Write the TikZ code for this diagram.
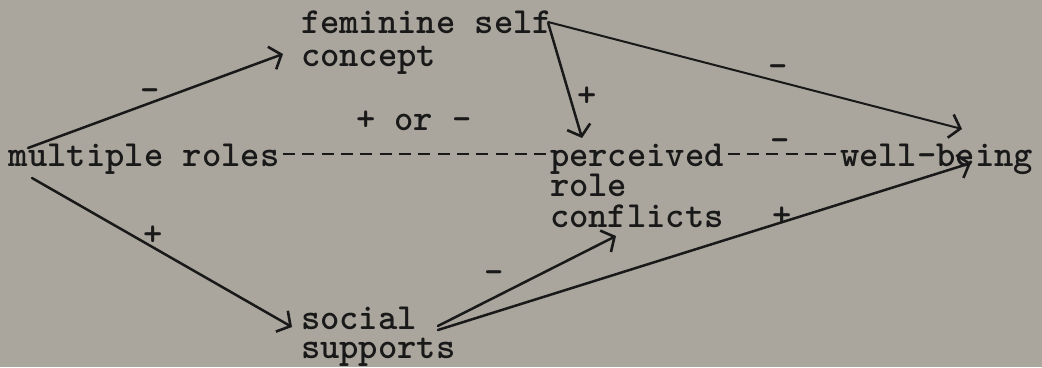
\documentclass[tikz,border=0pt]{standalone}
\usetikzlibrary{arrows.meta,calc}
\definecolor{bg}{RGB}{170,166,157}
\definecolor{ink}{RGB}{25,25,25}
\newcommand\tw{\fontsize{36.8}{40}\selectfont\ttfamily\bfseries}
\tikzset{
  x=1pt,y=-1pt,
  txt/.style={anchor=base west,inner sep=0pt,outer sep=0pt,font=\tw,text=ink},
  sgn/.style={anchor=base,inner sep=0pt,outer sep=0pt,font=\tw,text=ink},
  conn/.style={draw=ink,line width=2.5pt,line cap=round,
    -{Straight Barb[length=10pt,width=24pt,line width=2.6pt]}},
  thinconn/.style={conn,line width=2pt},
  dashconn/.style={draw=ink,line width=2.4pt,dash pattern=on 12pt off 7.32pt,dash phase=15.66pt}
}
\begin{document}
\begin{tikzpicture}
\fill[bg] (0,0) rectangle (1042,367);
\useasboundingbox (0,0) rectangle (1042,367);
% nodes
\node[txt] (fem1) at (301,33) {feminine self};
\node[txt] (fem2) at (301,66) {concept};
\node[txt] (mr)   at (9,166) {multiple roles};
\node[txt] (pe1)  at (550,166) {perceived};
\node[txt] (pe2)  at (550,196) {role};
\node[txt] (pe3)  at (550,227) {conflicts};
\node[txt] (wb)   at (840,166) {well-being};
\node[txt] (ss1)  at (301,329) {social};
\node[txt] (ss2)  at (301,358) {supports};
% dashed (typed) links
\draw[dashconn] ($(mr.base east)+(0,-12)$) -- ($(pe1.base west)+(0,-12)$);
\draw[dashconn] ($(pe1.base east)+(0,-12)$) -- ($(wb.base west)+(0,-12)$);
% arrows
\draw[conn] ($(mr.base west)+(19,-18)$) -- ($(fem2.base west)+(-18,-12)$);
\draw[conn] ($(mr.base west)+(23,12)$) -- ($(ss1.base west)+(-9,-2)$);
\draw[conn] ($(fem1.base east)+(-4,-10)$) -- ($(pe1.base west)+(32,-28)$);
\draw[thinconn] ($(fem1.base east)+(-4,-11)$) -- ($(wb.base west)+(122,-37)$);
\draw[conn] ($(ss1.base east)+(21,-3)$) -- ($(pe3.base west)+(66,9)$);
\draw[conn] ($(ss1.base east)+(21,1)$) -- ($(wb.base west)+(131,-3)$);
% labels
\node[sgn] (l1) at (150,101) {-};
\node[sgn] (l2) at (587,106) {+};
\node[sgn] (l3) at (778,77) {-};
\node[txt] (l4) at (356,130) {+ or -};
\node[sgn] (l5) at (780,151) {-};
\node[sgn] (l6) at (153,245) {+};
\node[sgn] (l7) at (494,283) {-};
\node[sgn] (l8) at (782,226) {+};
\end{tikzpicture}
\end{document}
